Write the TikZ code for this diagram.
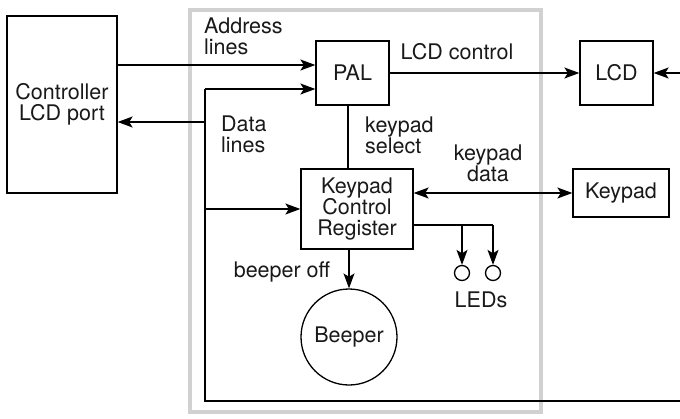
\documentclass[tikz,border=0pt]{standalone}
\usepackage{fontspec}
\setmainfont{TeX Gyre Heros}
\usetikzlibrary{arrows.meta}
\begin{document}
\begin{tikzpicture}[x=1pt,y=-1pt,
  every node/.style={font=\fontsize{21.5}{21}\selectfont, text=black!90},
  box/.style={draw, line width=1.3pt, inner sep=0pt, align=center},
  lbl/.style={inner sep=0pt, align=left},
  wire/.style={line width=1.3pt},
  arr/.style={wire, -{Stealth[length=15pt,width=11pt,inset=3.5pt]}},
  darr/.style={wire, {Stealth[length=15pt,width=11pt,inset=3.5pt]}-{Stealth[length=15pt,width=11pt,inset=3.5pt]}}]
\useasboundingbox (0,0) rectangle (680,418);
\draw[line width=4pt, black!18] (190,10) rectangle (541,412);

\node[box, minimum width=110pt, minimum height=177pt] (ctrl) at (62,104.5) {Controller\\LCD port};
\node[box, minimum width=73pt, minimum height=64pt] (pal) at (352.5,73) {PAL};
\node[box, minimum width=73pt, minimum height=64pt] (lcd) at (616.5,73) {LCD};
\node[box, minimum width=112pt, minimum height=80pt] (kcr) at (357,209) {Keypad\\Control\\Register};
\node[box, minimum width=96pt, minimum height=48pt] (kp) at (621,193) {Keypad};
\node[box, circle, minimum size=96pt] (beep) at (349,337) {Beeper};
\node[draw, circle, line width=1.3pt, minimum size=15pt, inner sep=0pt] (led1) at (462,273) {};
\node[draw, circle, line width=1.3pt, minimum size=15pt, inner sep=0pt] (led2) at (493,273) {};

\node[lbl, anchor=west] (addr) at (204,36) {Address\\lines};
\node[lbl, anchor=west] (data) at (221,134) {Data\\lines};
\node[lbl] (lcdc) at (457,52) {LCD control};
\node[lbl, anchor=west] (ksel) at (365,135) {keypad\\select};
\node[lbl, align=center] (kdat) at (488,163) {keypad\\data};
\node[lbl] (boff) at (282,272) {beeper off};
\node[lbl] (leds) at (481,300) {LEDs};

\coordinate (a1) at (117,65);
\coordinate (d1) at (205,89);
\coordinate (d2) at (205,122);
\coordinate (d3) at (205,209);
\coordinate (d4) at (205,401);
\coordinate (rb) at (680,401);
\coordinate (rl) at (680,73);
\coordinate (lr) at (413,225);
\coordinate (lj1) at (462,225);
\coordinate (lj2) at (493,225);

\draw[arr] (a1) -- (a1 -| pal.west);
\draw[wire] (rb) -- (d4) -- (d1);
\draw[arr] (d1) -- (d1 -| pal.west);
\draw[arr] (d2) -- (d2 -| ctrl.east);
\draw[arr] (d3) -- (kcr.west);
\draw[arr] (pal.east) -- (lcd.west);
\draw[arr] (rl) -- (lcd.east);
\draw[wire] (pal.south -| 348,0) -- (kcr.north -| 348,0);
\draw[darr] (kcr.east |- kp.west) -- (kp.west);
\draw[arr] (kcr.south -| beep.north) -- (beep.north);
\draw[wire] (lr) -- (lj2);
\draw[arr] (lj1) -- (led1.north);
\draw[arr] (lj2) -- (led2.north);
\end{tikzpicture}
\end{document}
